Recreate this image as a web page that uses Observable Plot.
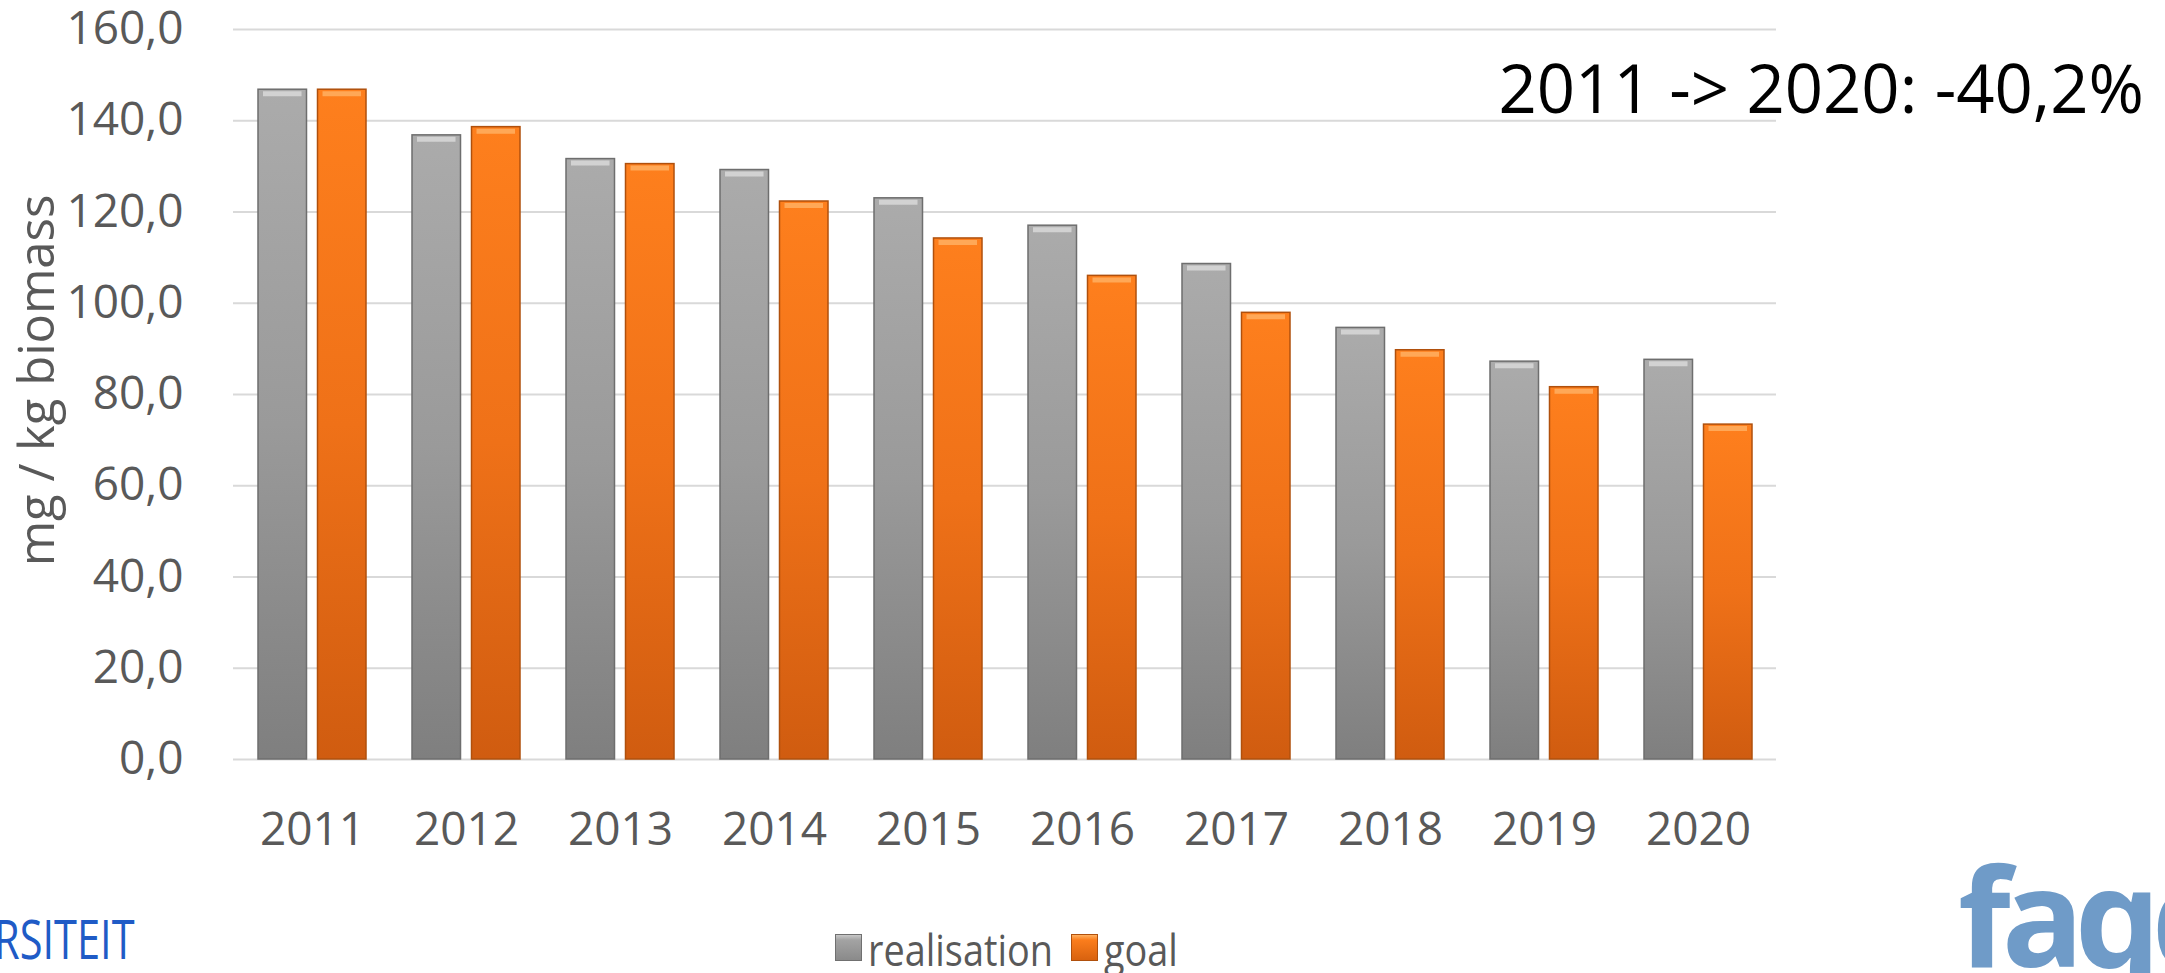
<!DOCTYPE html>
<html>
<head>
<meta charset="utf-8">
<script src="https://cdn.jsdelivr.net/npm/d3@7"></script>
<script src="https://cdn.jsdelivr.net/npm/@observablehq/plot@0.6"></script>
<style>
  html, body { margin: 0; padding: 0; background: #ffffff; overflow: hidden; }
  #page { position: relative; width: 2165px; height: 973px; overflow: hidden; font-family: "Open Sans", sans-serif; }
  #chart { position: absolute; left: 0; top: 0; }
  .abs { position: absolute; line-height: 1; white-space: nowrap; }
  .sw { position: absolute; width: 27px; height: 27px; box-sizing: border-box; }
</style>
</head>
<body>
<div id="page">
  <div id="chart"></div>
  <div class="sw" style="left:835px; top:934px; background: linear-gradient(#c8c8c8, #a3a3a3 20%, #8a8a8a); border:1.5px solid #707070;"></div>
  <div class="abs" style="left:868px; top:928px; font-size:43px; color:#595959; transform: scaleX(0.88); transform-origin: left top;">realisation</div>
  <div class="sw" style="left:1071px; top:934px; background: linear-gradient(#ffb060, #fb7d1c 20%, #d8620f); border:1.5px solid #b0500c;"></div>
  <div class="abs" style="left:1104px; top:928px; font-size:43px; color:#595959; transform: scaleX(0.88); transform-origin: left top;">goal</div>
  <div class="abs" style="left:-6px; top:911px; font-size:54px; font-weight:500; color:#1f5bc6; transform: scaleX(0.77); transform-origin: left top;">RSITEIT</div>
  <div class="abs" style="left:1958px; top:847px; font-size:136px; font-weight:700; color:#6f9bc8; letter-spacing:-9px;">faqq</div>
</div>
<script>
// ---- data ----
const years = ["2011", "2012", "2013", "2014", "2015", "2016", "2017", "2018", "2019", "2020"];
const realisation = [146.8, 136.8, 131.6, 129.2, 123.0, 117.0, 108.6, 94.6, 87.2, 87.6];
const goal = [146.8, 138.6, 130.5, 122.3, 114.2, 106.0, 97.9, 89.7, 81.6, 73.4];
const seriesNames = ["realisation", "goal"];
const yTicks = [0, 20, 40, 60, 80, 100, 120, 140, 160];
const yLabel = ["mg / kg biomass"];
const annotation = ["2011 -> 2020: -40,2%"];

const realRows = years.map((year, i) => ({year, series: seriesNames[0], value: realisation[i]}));
const goalRows = years.map((year, i) => ({year, series: seriesNames[1], value: goal[i]}));

const fmt = d => d.toFixed(1).replace(".", ",");

const W = 2165, H = 880;
const plot = Plot.plot({
  width: W,
  height: H,
  marginLeft: 233,
  marginRight: W - 1776,
  marginTop: 29,
  marginBottom: H - 759,
  style: {fontFamily: "'Open Sans', sans-serif", fontSize: "46px", color: "#595959", background: "transparent", overflow: "visible"},
  x: {domain: years, paddingInner: 0.3, paddingOuter: 0.15, label: null},
  y: {domain: [0, 160], label: null},
  marks: [
    Plot.gridY(yTicks, {stroke: "#d9d9d9", strokeOpacity: 1, strokeWidth: 2}),
    Plot.barY(realRows, {x: "year", y: "value", insetRight: 59.5, fill: "url(#gGray)", stroke: "#6e6e6e", strokeWidth: 1.5}),
    Plot.barY(goalRows, {x: "year", y: "value", insetLeft: 59.5, fill: "url(#gOrange)", stroke: "#b0500c", strokeWidth: 1.5}),
    Plot.tickY(realRows, {x: "year", y: "value", dy: 4, insetLeft: 5, insetRight: 64.5, stroke: "#d6d6d6", strokeWidth: 5, strokeOpacity: 0.9}),
    Plot.tickY(goalRows, {x: "year", y: "value", dy: 4, insetLeft: 64.5, insetRight: 5, stroke: "#ffad5e", strokeWidth: 5, strokeOpacity: 0.9}),
    Plot.axisY({ticks: yTicks, tickFormat: fmt, tickSize: 0, tickPadding: 50, label: null}),
    Plot.axisX({tickSize: 0, tickPadding: 53, label: null}),
    Plot.text(yLabel, {text: d => d, frameAnchor: "left", textAnchor: "middle", rotate: -90, dx: -195, dy: -14, fontSize: 49, fill: "#595959"}),
    Plot.text(annotation, {text: d => d, frameAnchor: "top-right", textAnchor: "start", lineAnchor: "top", dx: -278, dy: 36, fontSize: 67, fill: "#000000"})
  ]
});

// gradient definitions for bevel-like bar fills
const ns = "http://www.w3.org/2000/svg";
const defs = document.createElementNS(ns, "defs");
defs.innerHTML = `
  <linearGradient id="gGray" x1="0" y1="0" x2="0" y2="1">
    <stop offset="0" stop-color="#ababab"/>
    <stop offset="0.5" stop-color="#9a9a9a"/>
    <stop offset="1" stop-color="#7f7f7f"/>
  </linearGradient>
  <linearGradient id="gOrange" x1="0" y1="0" x2="0" y2="1">
    <stop offset="0" stop-color="#fe7f1d"/>
    <stop offset="0.5" stop-color="#ef7118"/>
    <stop offset="1" stop-color="#d05c10"/>
  </linearGradient>`;
plot.insertBefore(defs, plot.firstChild);
document.getElementById("chart").appendChild(plot);
</script>
</body>
</html>
